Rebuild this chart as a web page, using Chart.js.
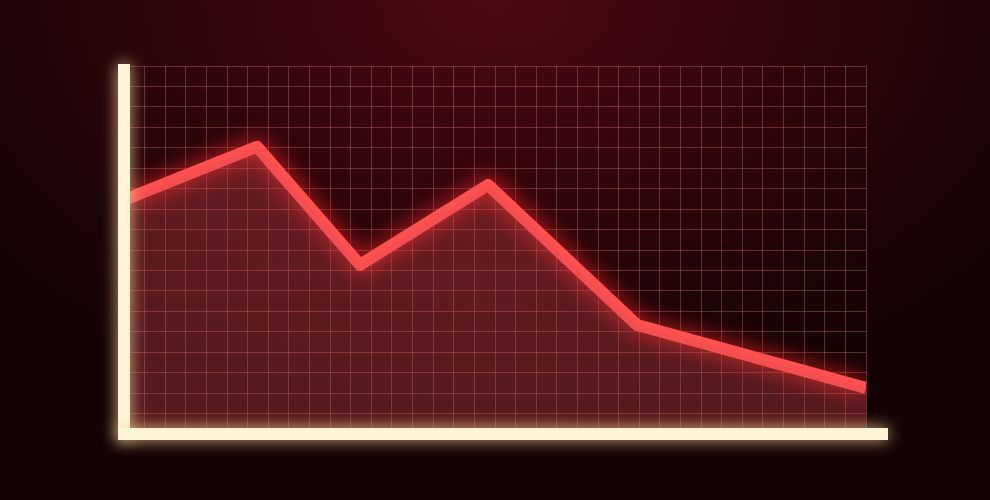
<!DOCTYPE html>
<html>
<head>
<meta charset="utf-8">
<script src="https://cdn.jsdelivr.net/npm/chart.js@4"></script>
<style>
  html, body { margin: 0; padding: 0; }
  body {
    width: 990px; height: 500px; overflow: hidden;
    background: radial-gradient(ellipse 65% 85% at 50% 0%, #4c0913 0%, #35060c 40%, #1e0407 78%, #140305 100%);
  }
  canvas { display: block; }
</style>
</head>
<body>
<canvas id="c" width="990" height="500"></canvas>
<script>
// Data (grid units: x 0..36, y 0..18)
const xValues = [0, 6.45, 11.45, 17.66, 24.9, 36];
const yValues = [11.45, 14.05, 8.27, 12.18, 5.33, 2.25];
const xMax = 36;
const yMax = 18;

const points = xValues.map((x, i) => ({ x: x, y: yValues[i] }));

const glowPlugin = {
  id: 'glow',
  beforeDatasetDraw(chart, args) {
    if (args.index === 1) {
      const ctx = chart.ctx;
      ctx.save();
      ctx.shadowColor = 'rgba(255,40,40,0.95)';
      ctx.shadowBlur = 22;
    }
  },
  afterDatasetDraw(chart, args) {
    if (args.index === 1) chart.ctx.restore();
  },
  afterDatasetsDraw(chart) {
    const ctx = chart.ctx;
    const sx = chart.scales.x, sy = chart.scales.y;
    const x0 = sx.getPixelForValue(0);
    const x1 = sx.getPixelForValue(xMax);
    const y0 = sy.getPixelForValue(0);
    const y1 = sy.getPixelForValue(yMax);
    ctx.save();
    ctx.fillStyle = '#fff4d6';
    ctx.shadowColor = 'rgba(255,215,150,0.85)';
    ctx.shadowBlur = 16;
    // y axis bar
    ctx.fillRect(x0 - 6, y1 - 2, 12, (y0 + 6) - (y1 - 2));
    // x axis bar
    ctx.fillRect(x0 - 6, y0 - 6, (x1 + 22) - (x0 - 6), 12);
    ctx.restore();
  }
};

new Chart(document.getElementById('c'), {
  type: 'line',
  data: {
    datasets: [
      {
        data: points,
        borderWidth: 0,
        pointRadius: 0,
        fill: 'origin',
        backgroundColor: 'rgba(225,75,80,0.32)'
      },
      {
        data: points,
        borderColor: '#ff5050',
        borderWidth: 12,
        borderJoinStyle: 'round',
        borderCapStyle: 'butt',
        pointRadius: 0,
        fill: false,
        tension: 0
      }
    ]
  },
  options: {
    responsive: false,
    animation: false,
    layout: { padding: { left: 124, right: 124, top: 66, bottom: 66 } },
    plugins: { legend: { display: false }, tooltip: { enabled: false } },
    scales: {
      x: {
        type: 'linear', min: 0, max: xMax,
        ticks: { display: false, stepSize: 1 },
        grid: { color: 'rgba(255,140,140,0.3)', lineWidth: 1, drawTicks: false },
        border: { display: false }
      },
      y: {
        type: 'linear', min: 0, max: yMax,
        ticks: { display: false, stepSize: 1 },
        grid: { color: 'rgba(255,140,140,0.3)', lineWidth: 1, drawTicks: false },
        border: { display: false }
      }
    }
  },
  plugins: [glowPlugin]
});
</script>
</body>
</html>
